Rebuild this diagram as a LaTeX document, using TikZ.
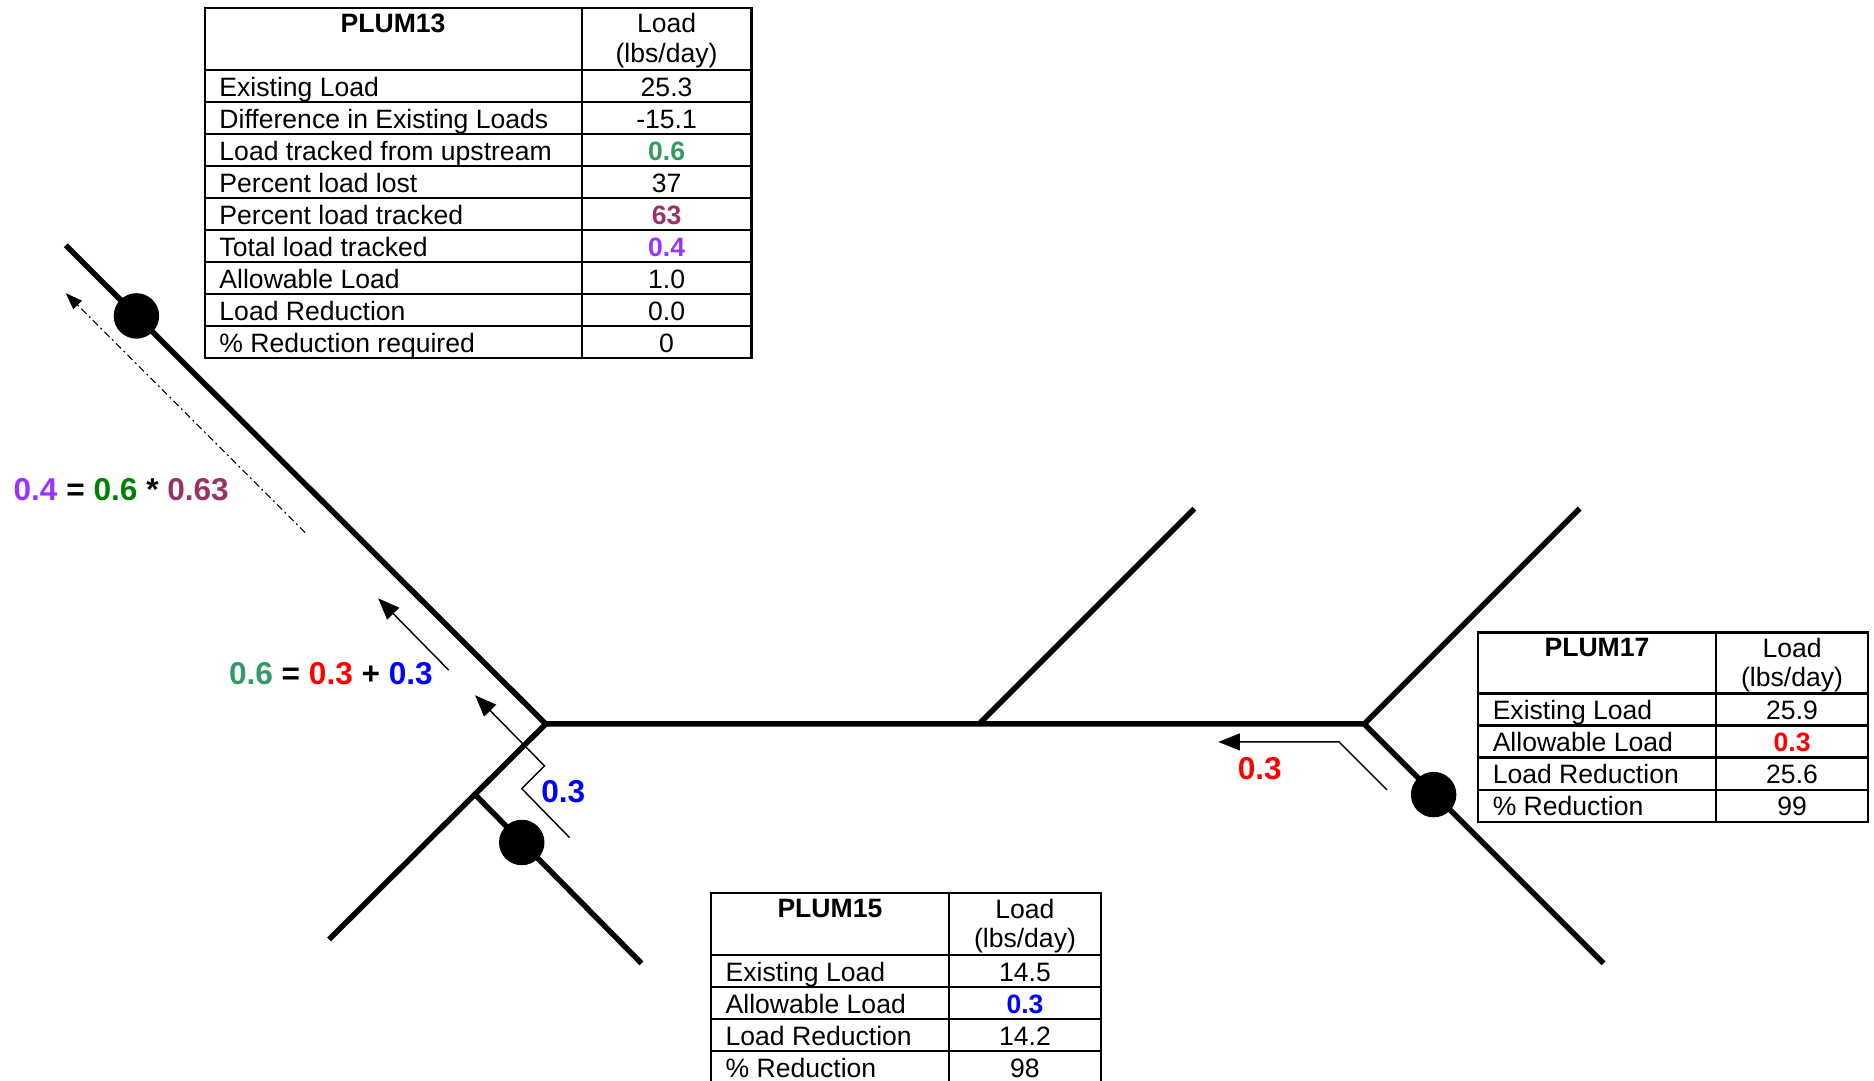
\documentclass[tikz,border=0pt]{standalone}
\usepackage{fontspec}
\setmainfont{Liberation Sans}
\usetikzlibrary{arrows.meta}
\definecolor{cpurple}{RGB}{153,51,255}
\definecolor{cgreen}{RGB}{0,128,0}
\definecolor{cplum}{RGB}{153,51,102}
\definecolor{csea}{RGB}{51,153,102}
\definecolor{cred}{RGB}{255,0,0}
\definecolor{cblue}{RGB}{0,0,255}
\begin{document}
\begin{tikzpicture}[x=0.5pt,y=-0.5pt,
  stream/.style={line width=2.3pt},
  dotnode/.style={circle, fill=black, minimum size=19pt, inner sep=0pt},
  flow/.style={line width=0.6pt, -{Triangle[length=9pt,width=7pt]}},
  dashflow/.style={line width=0.5pt, dash pattern=on 3pt off 1.5pt on 0.8pt off 1.5pt, -{Triangle[length=7pt,width=5pt]}},
  tbl/.style={line width=0.9pt},
  cell/.style={font=\fontsize{11.1}{12.3}\selectfont, inner sep=0pt, anchor=base},
  lcell/.style={cell, anchor=base west},
  lbl/.style={font=\fontsize{13.2}{16}\selectfont\bfseries, inner sep=0pt, anchor=base west}
]
\useasboundingbox (0,0) rectangle (1566,903.3);

% ---- stream network ----
\coordinate (nw) at (55,205);
\coordinate (j1) at (456,605);
\coordinate (sw) at (275,785);
\coordinate (j2) at (397,664);
\coordinate (s2) at (536,805);
\coordinate (j3) at (818,605);
\coordinate (n3) at (998,425);
\coordinate (j4) at (1140,605);
\coordinate (ne) at (1320,425);
\coordinate (se) at (1340,805);

\draw[stream] (nw) -- (j1) -- (j4);
\draw[stream] (j1) -- (sw);
\draw[stream] (j2) -- (s2);
\draw[stream] (j3) -- (n3);
\draw[stream] (j4) -- (ne);
\draw[stream] (j4) -- (se);

\node[dotnode] (d13) at (114,264) {};
\node[dotnode] (d15) at (436,704) {};
\node[dotnode] (d17) at (1198,664) {};

% ---- flow arrows ----
\coordinate (a1s) at (375,560);
\coordinate (a1e) at (316,500);
\draw[flow] (a1s) -- (a1e);

\coordinate (b1) at (476,700);
\coordinate (b2) at (436,659);
\coordinate (b3) at (455,640);
\coordinate (b4) at (397,581);
\draw[flow] (b1) -- (b2) -- (b3) -- (b4);

\coordinate (r1) at (1159,660);
\coordinate (r2) at (1119,620);
\coordinate (r3) at (1018,620);
\draw[flow] (r1) -- (r2) -- (r3);

\coordinate (ds) at (255,445);
\coordinate (de) at (55,245);
\draw[dashflow] (ds) -- (de);

% ---- labels ----
\node[lbl] (eq1) at (11,418) {\textcolor{cpurple}{0.4} = \textcolor{cgreen}{0.6} * \textcolor{cplum}{0.63}};
\node[lbl] (eq2) at (191,572) {\textcolor{csea}{0.6} = \textcolor{cred}{0.3} + \textcolor{cblue}{0.3}};
\node[lbl] (lb15) at (452,671) {\textcolor{cblue}{0.3}};
\node[lbl] (lb17) at (1034,651) {\textcolor{cred}{0.3}};

% ---- PLUM13 table ----
\draw[tbl] (171,7) rectangle (628,299.3);
\draw[tbl] (486,7) -- (486,299.3);
\foreach \k in {0,...,8} \draw[tbl] (171,58.5+\k*26.76) -- (628,58.5+\k*26.76);
\node[cell, font=\fontsize{11.1}{12.3}\selectfont\bfseries] (h13) at (328.5,27) {PLUM13};
\node[cell] (u13a) at (557,27.5) {Load};
\node[cell] (u13b) at (557,52) {(lbs/day)};
\foreach \lab/\val [count=\k] in {Existing Load/25.3,
  Difference in Existing Loads/-15.1,
  Load tracked from upstream/\textcolor{csea}{\textbf{0.6}},
  Percent load lost/37,
  Percent load tracked/\textcolor{cplum}{\textbf{63}},
  Total load tracked/\textcolor{cpurple}{\textbf{0.4}},
  Allowable Load/1.0,
  Load Reduction/0.0,
  \% Reduction required/0}
{
  \node[lcell] (l13\k) at (183,58.5+\k*26.76-5) {\lab};
  \node[cell] (v13\k) at (557,58.5+\k*26.76-5) {\val};
}

% ---- PLUM17 table ----
\draw[tbl] (1235,528.5) rectangle (1561,686.6);
\draw[tbl] (1434,528.5) -- (1434,686.6);
\foreach \k in {0,...,3} \draw[tbl] (1235,579.5+\k*26.78) -- (1561,579.5+\k*26.78);
\node[cell, font=\fontsize{11.1}{12.3}\selectfont\bfseries] (h17) at (1334.5,549) {PLUM17};
\node[cell] (u17a) at (1497.5,549.5) {Load};
\node[cell] (u17b) at (1497.5,574) {(lbs/day)};
\foreach \lab/\val [count=\k] in {Existing Load/25.9,
  Allowable Load/\textcolor{cred}{\textbf{0.3}},
  Load Reduction/25.6,
  \% Reduction/99}
{
  \node[lcell] (l17\k) at (1247,579.5+\k*26.78-5) {\lab};
  \node[cell] (v17\k) at (1497.5,579.5+\k*26.78-5) {\val};
}

% ---- PLUM15 table ----
\draw[tbl] (594,906) -- (594,746.5) -- (920,746.5) -- (920,906);
\draw[tbl] (793,746.5) -- (793,906);
\foreach \k in {0,...,3} \draw[tbl] (594,798+\k*26.8) -- (920,798+\k*26.8);
\node[cell, font=\fontsize{11.1}{12.3}\selectfont\bfseries] (h15) at (693.5,767) {PLUM15};
\node[cell] (u15a) at (856.5,767.5) {Load};
\node[cell] (u15b) at (856.5,792) {(lbs/day)};
\foreach \lab/\val [count=\k] in {Existing Load/14.5,
  Allowable Load/\textcolor{cblue}{\textbf{0.3}},
  Load Reduction/14.2,
  \% Reduction/98}
{
  \node[lcell] (l15\k) at (606,798+\k*26.8-5) {\lab};
  \node[cell] (v15\k) at (856.5,798+\k*26.8-5) {\val};
}
\end{tikzpicture}
\end{document}
